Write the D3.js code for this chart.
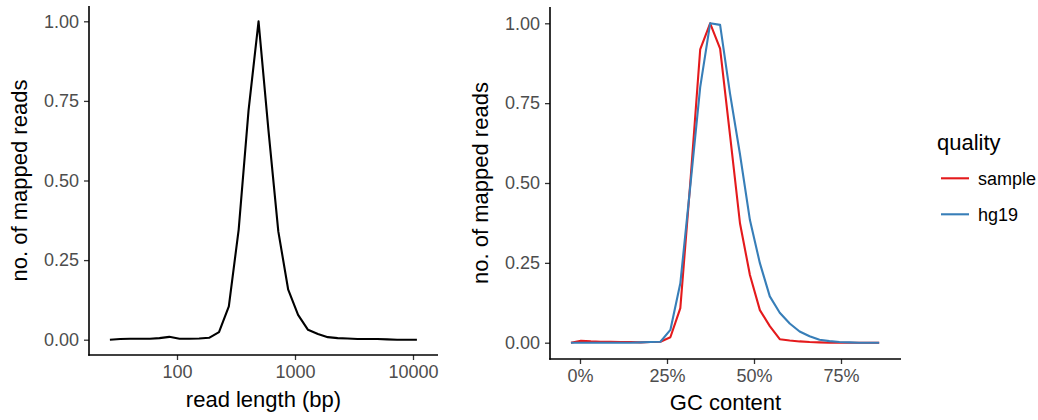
<!DOCTYPE html>
<html>
<head>
<meta charset="utf-8">
<script src="https://cdn.jsdelivr.net/npm/d3@7"></script>
<style>
  html, body { margin: 0; padding: 0; background: #fff; }
  svg { display: block; font-family: "Liberation Sans", Arial, Helvetica, sans-serif; }
</style>
</head>
<body>
<svg id="chart" width="1038" height="420"></svg>
<script>
// ---------------- data ----------------
const readLength = [27, 33, 40, 48, 59, 71, 86, 105, 127, 154, 187, 227, 275, 333, 404, 491,
                    595, 722, 876, 1062, 1289, 1564, 1897, 2301, 2792, 3387, 4108, 4983, 6045, 7334, 8897, 10793];
const readCount  = [0.000, 0.002, 0.003, 0.003, 0.003, 0.005, 0.009, 0.003, 0.003, 0.004, 0.006, 0.024, 0.105, 0.345, 0.72, 1.000,
                    0.66, 0.34, 0.157, 0.078, 0.031, 0.018, 0.008, 0.005, 0.004, 0.002, 0.002, 0.002, 0.001, 0.000, 0.000, 0.000];

const gcContent = [-2.60, 0.26, 3.11, 5.97, 8.83, 11.69, 14.54, 17.40, 20.26, 23.11, 25.97, 28.83, 31.69, 34.54, 37.40, 40.26,
                   43.11, 45.97, 48.83, 51.69, 54.54, 57.40, 60.26, 63.11, 65.97, 68.83, 71.69, 74.54, 77.40, 80.26, 83.11, 85.97];
const gcSample  = [0.000, 0.006, 0.004, 0.003, 0.003, 0.002, 0.002, 0.001, 0.002, 0.003, 0.017, 0.108, 0.50, 0.918, 1.000, 0.921,
                   0.65, 0.374, 0.212, 0.102, 0.052, 0.011, 0.007, 0.004, 0.002, 0.001, 0.000, 0.000, 0.000, 0.000, 0.000, 0.000];
const gcHg19    = [0.000, 0.000, 0.000, 0.000, 0.000, 0.000, 0.000, 0.001, 0.002, 0.003, 0.040, 0.186, 0.49, 0.80, 1.000, 0.995,
                   0.78, 0.59, 0.384, 0.249, 0.145, 0.094, 0.060, 0.035, 0.020, 0.009, 0.005, 0.002, 0.001, 0.000, 0.000, 0.000];

const seriesNames  = ["sample", "hg19"];
const seriesColors = ["#E41A1C", "#377EB8"];

const yTicks = [0, 0.25, 0.5, 0.75, 1.0];
const lenTicks = [100, 1000, 10000];
const gcTicks = [0, 25, 50, 75];

// ---------------- drawing ----------------
const svg = d3.select("#chart");
const tickFont = 18, titleFont = 22;
const tickColor = "#4D4D4D";

function drawPanel(opts) {
  const g = svg.append("g");
  const { x, y, left, right, top, bottom } = opts;

  // y axis
  const yAxis = d3.axisLeft(y).tickValues(yTicks).tickFormat(d3.format(".2f")).tickSize(5).tickPadding(5);
  const ya = g.append("g").attr("transform", `translate(${left},0)`).call(yAxis);
  ya.select(".domain").remove();
  ya.selectAll(".tick line").attr("stroke", "#333").attr("stroke-width", 1.3);
  ya.selectAll(".tick text").attr("fill", tickColor).style("font-size", tickFont + "px")
    .style("font-family", "Liberation Sans, Arial, sans-serif");

  // x axis
  const xAxis = d3.axisBottom(x).tickValues(opts.xTicks).tickFormat(opts.xFormat).tickSize(5).tickPadding(5);
  const xa = g.append("g").attr("transform", `translate(0,${bottom})`).call(xAxis);
  xa.select(".domain").remove();
  xa.selectAll(".tick line").attr("stroke", "#333").attr("stroke-width", 1.3);
  xa.selectAll(".tick text").attr("fill", tickColor).style("font-size", tickFont + "px")
    .style("font-family", "Liberation Sans, Arial, sans-serif");

  // axis lines
  g.append("line").attr("x1", left).attr("x2", left).attr("y1", top).attr("y2", bottom + 0.75)
    .attr("stroke", "#000").attr("stroke-width", 1.6);
  g.append("line").attr("x1", left - 0.75).attr("x2", right).attr("y1", bottom).attr("y2", bottom)
    .attr("stroke", "#000").attr("stroke-width", 1.6);

  // lines
  opts.series.forEach(s => {
    const line = d3.line().x((d, i) => x(s.xs[i])).y(d => y(d));
    g.append("path").datum(s.ys).attr("d", line).attr("fill", "none")
      .attr("stroke", s.color).attr("stroke-width", 2.1)
      .attr("stroke-linejoin", "round").attr("stroke-linecap", "butt");
  });

  // titles
  g.append("text").attr("x", (left + right) / 2).attr("y", opts.xTitleY)
    .attr("text-anchor", "middle").style("font-size", titleFont + "px").attr("fill", "#000")
    .text(opts.xTitle);
  g.append("text").attr("transform", `translate(${opts.yTitleX},${(top + bottom) / 2}) rotate(-90)`)
    .attr("text-anchor", "middle").style("font-size", titleFont + "px").attr("fill", "#000")
    .text("no. of mapped reads");
}

// Left panel
const xL = d3.scaleLog().domain([100, 1000]).range([177, 295]);
xL.domain([xL.invert(89), xL.invert(438)]).range([89, 438]);
const yL = d3.scaleLinear().domain([0, 1]).range([339.7, 21.3]);
drawPanel({
  x: xL, y: yL, left: 89, right: 438, top: 6, bottom: 355,
  xTicks: lenTicks, xFormat: d3.format("d"),
  series: [{ xs: readLength, ys: readCount, color: "#000" }],
  xTitle: "read length (bp)", xTitleY: 407, yTitleX: 27
});

// Right panel
const xR = d3.scaleLinear().domain([0, 75]).range([580, 841]);
const yR = d3.scaleLinear().domain([0, 1]).range([342.7, 23.3]);
drawPanel({
  x: xR, y: yR, left: 550, right: 901, top: 7, bottom: 359,
  xTicks: gcTicks, xFormat: d => d + "%",
  series: [
    { xs: gcContent, ys: gcSample, color: seriesColors[0] },
    { xs: gcContent, ys: gcHg19, color: seriesColors[1] }
  ],
  xTitle: "GC content", xTitleY: 410, yTitleX: 488
});

// Legend
const leg = svg.append("g").attr("transform", "translate(937,0)");
leg.append("text").attr("x", 0).attr("y", 150).style("font-size", titleFont + "px").attr("fill", "#000").text("quality");
const keyY = [178.3, 214.3];
seriesNames.forEach((name, i) => {
  leg.append("line").attr("x1", 4).attr("x2", 32).attr("y1", keyY[i]).attr("y2", keyY[i])
    .attr("stroke", seriesColors[i]).attr("stroke-width", 2.1);
  leg.append("text").attr("x", 41).attr("y", keyY[i]).attr("dy", "0.35em")
    .style("font-size", tickFont + "px").attr("fill", "#000").text(name);
});
</script>
</body>
</html>
